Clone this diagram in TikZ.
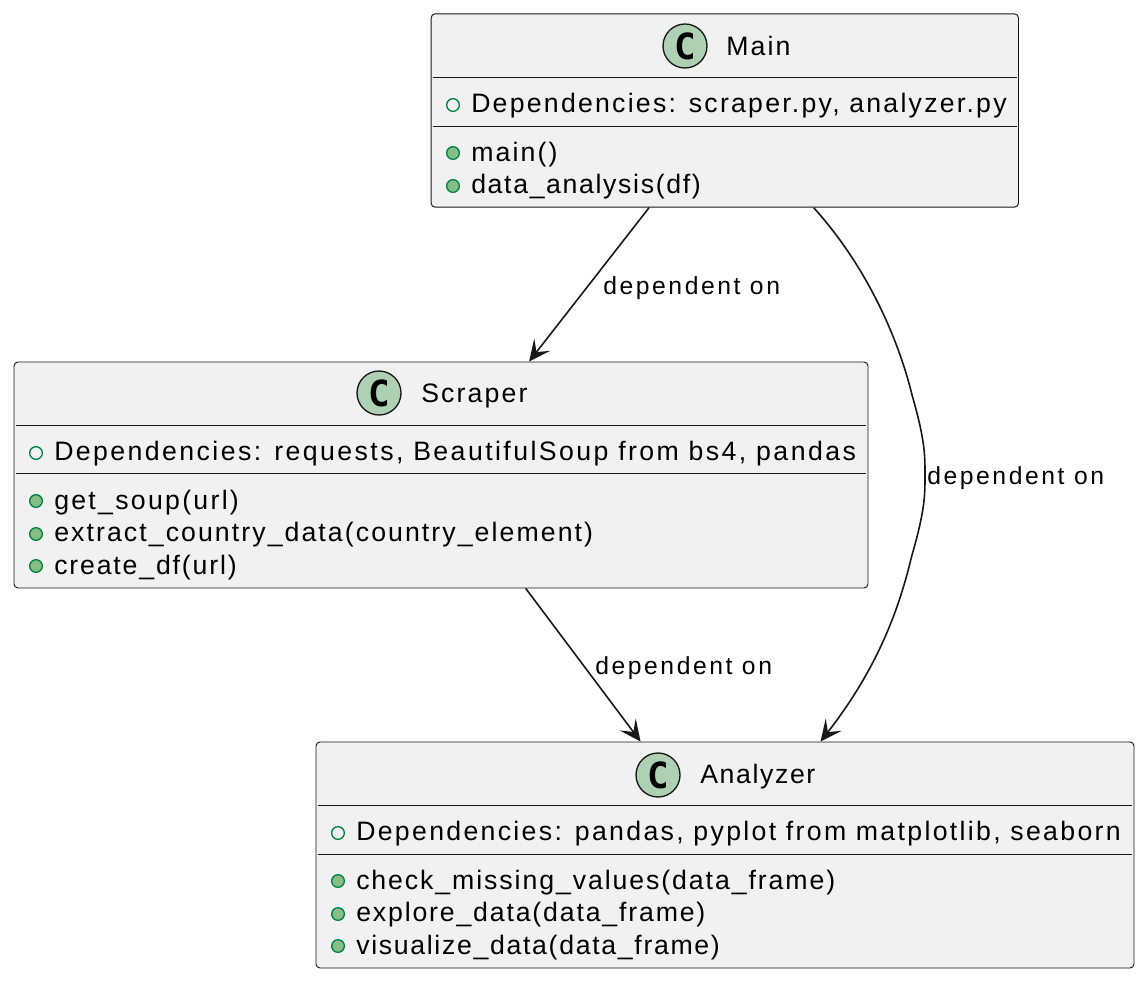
\documentclass[tikz,border=0pt]{standalone}
\usepackage{fontspec}
\setmainfont{Liberation Sans}[LetterSpace=8.0]
\newfontfamily\lblfont{Liberation Sans}[LetterSpace=10.5]
\newfontfamily\spotfont{DejaVu Sans Mono}
\newcommand{\lsp}[1]{\addfontfeature{LetterSpace=#1}}
\usetikzlibrary{arrows.meta,positioning,calc}
\definecolor{boxfill}{HTML}{F1F1F1}
\definecolor{boxline}{HTML}{181818}
\definecolor{spotfill}{HTML}{ADD1B2}
\definecolor{iconline}{HTML}{038048}
\definecolor{iconfill}{HTML}{84BE84}

\begin{document}
\begin{tikzpicture}[
  x=0.75pt, y=-0.75pt, font=\fontsize{20}{24}\selectfont,
  cls/.style={draw=boxline, fill=boxfill, line width=0.7pt, rounded corners=3pt, inner sep=0pt},
  sep/.style={draw=boxline, line width=0.6pt},
  spot/.style={circle, draw=boxline, fill=spotfill, line width=1pt, minimum size=33pt, inner sep=0pt, font=\spotfont\bfseries\fontsize{27}{27}\selectfont},
  txt/.style={anchor=base west, inner sep=0pt, text=black},
  fld/.style={circle, draw=iconline, line width=1pt, fill=none, minimum size=9.5pt, inner sep=0pt},
  mth/.style={fld, fill=iconfill},
  arr/.style={draw=boxline, line width=1.2pt, -{Stealth[length=16pt, width=15pt, inset=7pt]}},
  lbl/.style={txt, font=\lblfont\fontsize{18.5}{22}\selectfont}]
  \useasboundingbox (0,0) rectangle (1148,982);
  % Main
  \node[cls, minimum width=440.5pt, minimum height=145pt] (main) at (724.8,110.5) {};
  \draw[sep] ($(main.north west)+(2,64)$) -- ($(main.north east)+(-2,64)$);
  \draw[sep] ($(main.north west)+(2,113)$) -- ($(main.north east)+(-2,113)$);
  \node[spot] (mainspot) at (685,46) {C};
  \node[txt] (maintitle) at (726,55) {Main};
  \node[fld] (mainf) at (453,105) {};
  \node[txt] at (471,112) {\lsp{8.4}Dependencies: scraper.py, analyzer.py};
  \node[mth] (mainm1) at (453,153) {};
  \node[txt] at (471,161) {main()};
  \node[mth] (mainm2) at (453,186) {};
  \node[txt] at (471,193) {\lsp{6.2}data\_analysis(df)};
  % Scraper
  \node[cls, minimum width=640.5pt, minimum height=169.5pt] (scraper) at (441,475) {};
  \draw[sep] ($(scraper.north west)+(2,64)$) -- ($(scraper.north east)+(-2,64)$);
  \draw[sep] ($(scraper.north west)+(2,112)$) -- ($(scraper.north east)+(-2,112)$);
  \node[spot] (scraperspot) at (379,393) {C};
  \node[txt] (scrapertitle) at (421,402) {Scraper};
  \node[fld] (scraperf) at (36,453) {};
  \node[txt] at (54,460) {\lsp{9.1}Dependencies: requests, BeautifulSoup from bs4, pandas};
  \node[mth] (scraperm1) at (36,501) {};
  \node[txt] at (54,509) {\lsp{8.6}get\_soup(url)};
  \node[mth] (scraperm2) at (36,534) {};
  \node[txt] at (54,541) {\lsp{7.8}extract\_country\_data(country\_element)};
  \node[mth] (scraperm3) at (36,566) {};
  \node[txt] at (54,574) {\lsp{6.9}create\_df(url)};
  % Analyzer
  \node[cls, minimum width=613.5pt, minimum height=169.5pt] (analyzer) at (725,855) {};
  \draw[sep] ($(analyzer.north west)+(2,64)$) -- ($(analyzer.north east)+(-2,64)$);
  \draw[sep] ($(analyzer.north west)+(2,113)$) -- ($(analyzer.north east)+(-2,113)$);
  \node[spot] (analyzerspot) at (658,775) {C};
  \node[txt] (analyzertitle) at (700,783) {\lsp{6.1}Analyzer};
  \node[fld] (analyzerf) at (338,833) {};
  \node[txt] at (356,840) {\lsp{8.7}Dependencies: pandas, pyplot from matplotlib, seaborn};
  \node[mth] (analyzerm1) at (338,881) {};
  \node[txt] at (356,889) {\lsp{7.2}check\_missing\_values(data\_frame)};
  \node[mth] (analyzerm2) at (338,914) {};
  \node[txt] at (356,921) {\lsp{6.9}explore\_data(data\_frame)};
  \node[mth] (analyzerm3) at (338,946) {};
  \node[txt] at (356,954) {\lsp{6.3}visualize\_data(data\_frame)};
  % connectors
  \coordinate (bend) at (925,475);
  \draw[arr] (main) -- (scraper);
  \draw[arr] (scraper) -- (analyzer);
  \draw[arr] ($(main.south west)+(383,0)$) .. controls (870,270) and (900,345) .. (912,395) .. controls (925,440) and (925,455) .. (bend) .. controls (925,495) and (925,510) .. (912,555) .. controls (900,605) and (880,665) .. ($(analyzer.north west)+(505,0)$);
  \node[lbl] (lblms) at (603,294) {dependent on};
  \node[lbl] (lblma) at (927,484) {dependent on};
  \node[lbl] (lblsa) at (595,674) {dependent on};
\end{tikzpicture}
\end{document}
